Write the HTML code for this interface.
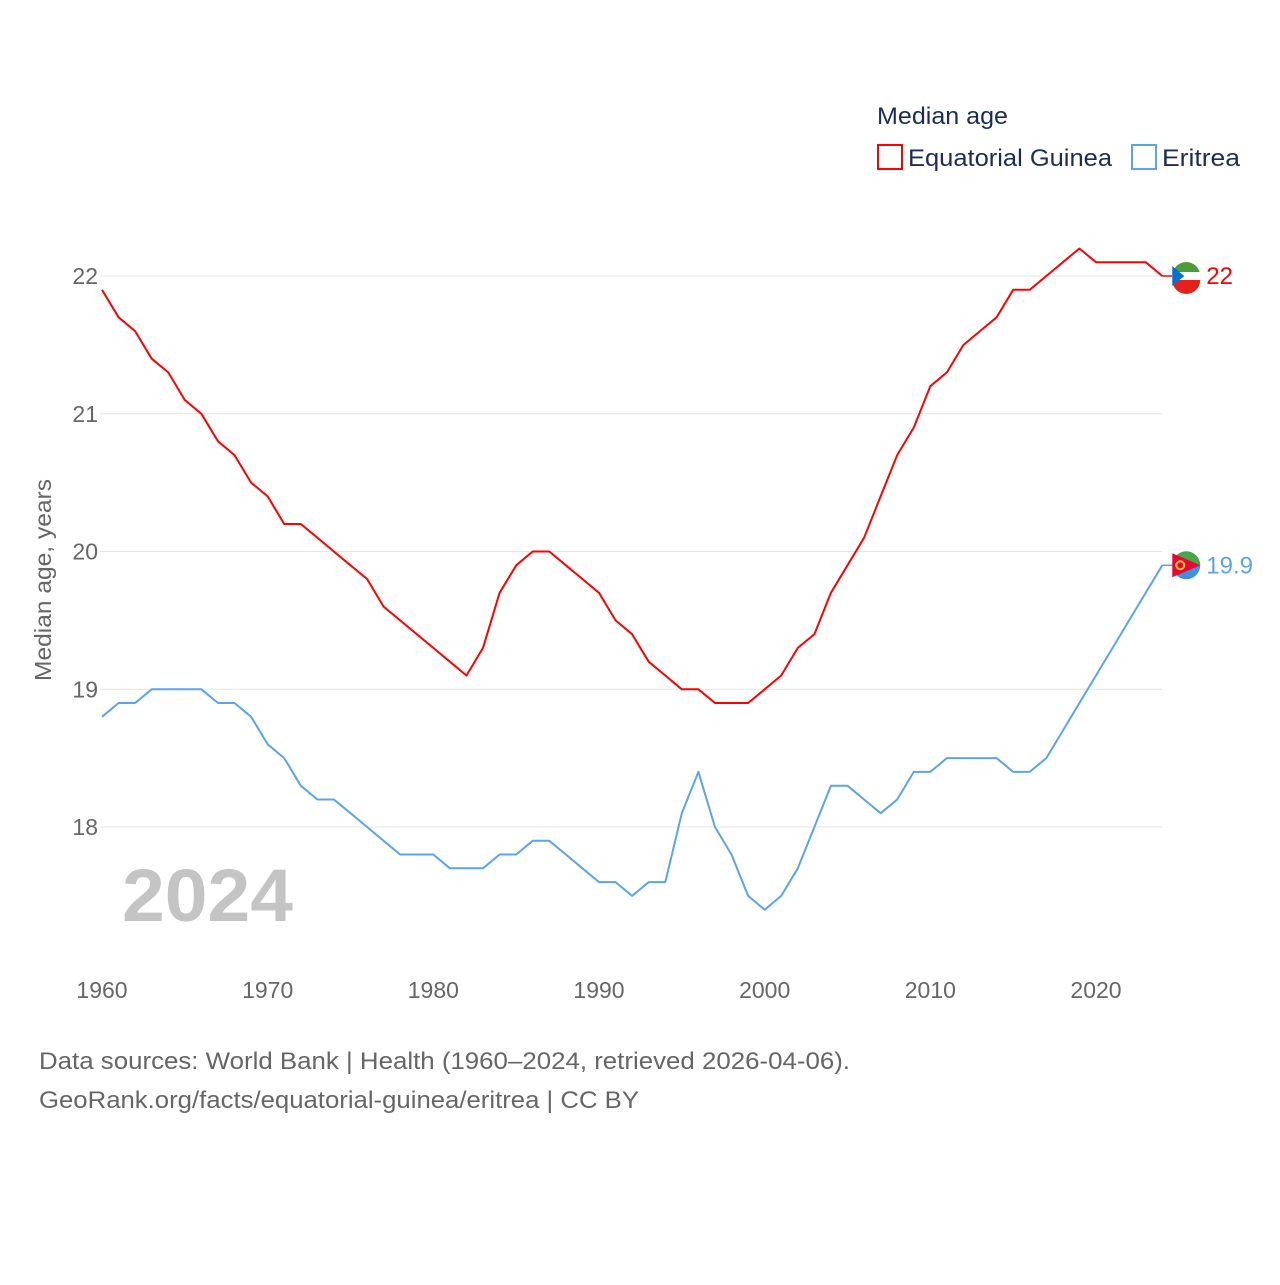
<!DOCTYPE html>
<html><head><meta charset="utf-8">
<style>
html,body{margin:0;padding:0;background:#fff;}
body{width:1280px;height:1280px;overflow:hidden;font-family:"Liberation Sans",sans-serif;}
svg text{font-family:"Liberation Sans",sans-serif;}
</style></head>
<body>
<svg id="chart" width="1280" height="1280" viewBox="0 0 1280 1280">
  <g id="grid"></g>
  <g id="yticks"></g>
  <g id="xticks"></g>
  <text x="0" y="0" transform="translate(51,580) rotate(-90)" text-anchor="middle" font-size="23" fill="#666" textLength="202" lengthAdjust="spacingAndGlyphs">Median age, years</text>
  <text x="122" y="921" font-size="74" font-weight="bold" fill="#c4c4c4" textLength="171" lengthAdjust="spacingAndGlyphs">2024</text>
  <g id="series"></g>
  <g>
    <text x="877" y="124" font-size="24" fill="#1a2e55" textLength="131" lengthAdjust="spacingAndGlyphs">Median age</text>
    <rect x="878" y="145" width="24" height="24" fill="#fff" stroke="#f00" stroke-width="2"/>
    <text x="908" y="166" font-size="24" fill="#1a2e55" textLength="204" lengthAdjust="spacingAndGlyphs">Equatorial Guinea</text>
    <rect x="1132" y="145" width="24" height="24" fill="#fff" stroke="#5ba4ea" stroke-width="2"/>
    <text x="1162" y="166" font-size="24" fill="#1a2e55" textLength="78" lengthAdjust="spacingAndGlyphs">Eritrea</text>
  </g>
  <g id="ends"></g>
  <text x="39" y="1069" font-size="24" fill="#666" textLength="811" lengthAdjust="spacingAndGlyphs">Data sources: World Bank | Health (1960–2024, retrieved 2026-04-06).</text>
  <text x="39" y="1108" font-size="24" fill="#666" textLength="600" lengthAdjust="spacingAndGlyphs">GeoRank.org/facts/equatorial-guinea/eritrea | CC BY</text>
</svg>
<script>
const years = [];
for (let y = 1960; y <= 2024; y++) years.push(y);
const eqGuinea = [21.9,21.7,21.6,21.4,21.3,21.1,21.0,20.8,20.7,20.5,20.4,20.2,20.2,20.1,20.0,19.9,19.8,19.6,19.5,19.4,19.3,19.2,19.1,19.3,19.7,19.9,20.0,20.0,19.9,19.8,19.7,19.5,19.4,19.2,19.1,19.0,19.0,18.9,18.9,18.9,19.0,19.1,19.3,19.4,19.7,19.9,20.1,20.4,20.7,20.9,21.2,21.3,21.5,21.6,21.7,21.9,21.9,22.0,22.1,22.2,22.1,22.1,22.1,22.1,22.0];
const eritrea = [18.8,18.9,18.9,19.0,19.0,19.0,19.0,18.9,18.9,18.8,18.6,18.5,18.3,18.2,18.2,18.1,18.0,17.9,17.8,17.8,17.8,17.7,17.7,17.7,17.8,17.8,17.9,17.9,17.8,17.7,17.6,17.6,17.5,17.6,17.6,18.1,18.4,18.0,17.8,17.5,17.4,17.5,17.7,18.0,18.3,18.3,18.2,18.1,18.2,18.4,18.4,18.5,18.5,18.5,18.5,18.4,18.4,18.5,18.7,18.9,19.1,19.3,19.5,19.7,19.9];
const yTickValues = [18,19,20,21,22];
const xTickValues = [1960,1970,1980,1990,2000,2010,2020];

const X0 = 102, XPER = (1096-102)/60;
const Y22 = 276, YPER = (827-276)/4;
function xs(v){ return X0 + (v-1960)*XPER; }
function ys(v){ return Y22 + (22-v)*YPER; }
const NS = "http://www.w3.org/2000/svg";
function mk(tag, attrs, parent){
  const e = document.createElementNS(NS, tag);
  for (const k in attrs) e.setAttribute(k, attrs[k]);
  parent.appendChild(e); return e;
}
const grid = document.getElementById('grid');
const yt = document.getElementById('yticks');
yTickValues.forEach(v=>{
  const l = mk('line',{x1:100,x2:1162,y1:ys(v),y2:ys(v),stroke:'#e6e6e6','stroke-width':1},grid);
  
  
  const t = mk('text',{x:98,y:ys(v)+8,'text-anchor':'end','font-size':23,fill:'#666'},yt);
  t.textContent = v;
  
  
});
const xt = document.getElementById('xticks');
xTickValues.forEach(v=>{
  const t = mk('text',{x:xs(v),y:998,'text-anchor':'middle','font-size':23,fill:'#666'},xt);
  t.textContent = v;
  
  
});
const ser = document.getElementById('series');
function line(data, color, name){
  const d = data.map((v,i)=>(i?'L':'M')+xs(years[i]).toFixed(1)+' '+ys(v).toFixed(1)).join(' ');
  const p = mk('path',{d:d,fill:'none',stroke:color,'stroke-width':2,'stroke-linejoin':'round'},ser);
  
  
}
line(eqGuinea,'#ff0000','line-equatorial-guinea');
line(eritrea,'#5ba4ea','line-eritrea');

const ends = document.getElementById('ends');
function endLabel(data, color, name, flag){
  const v = data[data.length-1];
  const x = xs(2024), y = ys(v);
  mk('line',{x1:x,x2:x+14,y1:y,y2:y,stroke:color,'stroke-width':1.5},ends);
  const g = mk('g',{},ends);
  
  
  const cx = x+24, cy = y;
  if (flag==='gq'){
    mk('path',{d:`M${cx-14} ${cy} A14 14 0 0 1 ${cx+14} ${cy} Z`,fill:'#4f9a3a'},g);
    mk('rect',{x:cx-14,y:cy-4,width:28,height:8,fill:'#fff'},g);
    mk('path',{d:`M${cx-14} ${cy+4} A14 14 0 0 0 ${cx+14} ${cy+4} Z`,fill:'#e32118'},g);
    mk('path',{d:`M${cx-14} ${cy-10} L${cx-2} ${cy} L${cx-14} ${cy+10} Z`,fill:'#0073ce'},g);
  } else {
    mk('path',{d:`M${cx-14} ${cy} A14 14 0 0 1 ${cx+14} ${cy} Z`,fill:'#4aa546'},g);
    mk('path',{d:`M${cx-14} ${cy} A14 14 0 0 0 ${cx+14} ${cy} Z`,fill:'#418fde'},g);
    mk('path',{d:`M${cx-14} ${cy-12} L${cx+14} ${cy} L${cx-14} ${cy+12} Z`,fill:'#ea0437'},g);
    mk('circle',{cx:cx-6,cy:cy,r:4,fill:'none',stroke:'#ffc726','stroke-width':2},g);
  }
  const t = mk('text',{x:cx+20,y:cy+8,'font-size':24,fill:color},ends);
  t.textContent = String(v);
  
  
}
endLabel(eqGuinea,'#ff0000','equatorial-guinea','gq');
endLabel(eritrea,'#5ba4ea','eritrea','er');
</script>
</body></html>
